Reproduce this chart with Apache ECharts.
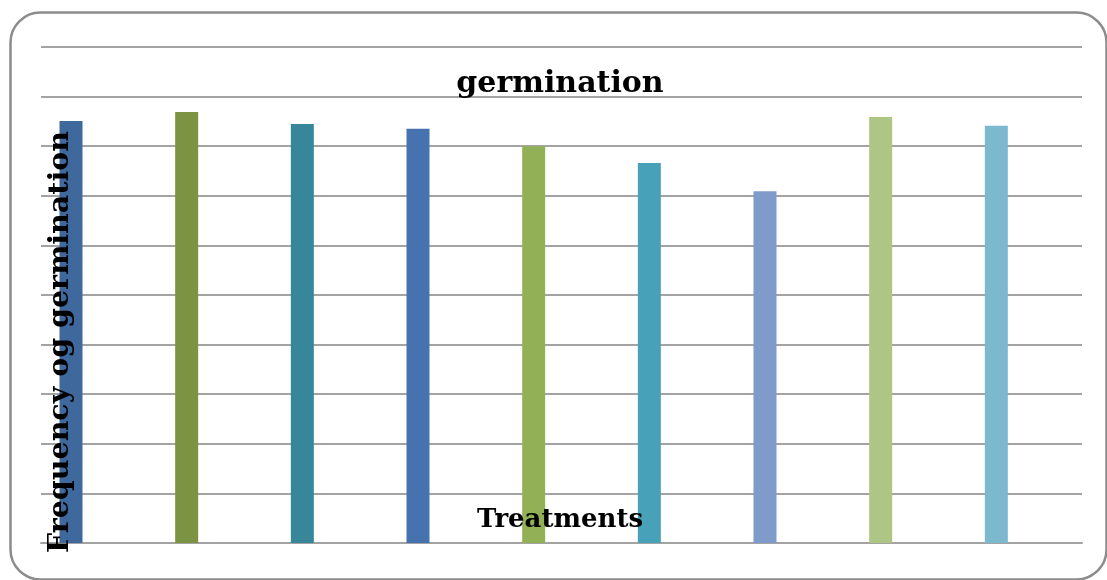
<!DOCTYPE html>
<html>
<head>
<meta charset="utf-8">
<script src="https://cdn.jsdelivr.net/npm/echarts@6/dist/echarts.min.js"></script>
<style>
html,body{margin:0;padding:0;background:#fff;}
#chart{width:1107px;height:580px;}
</style>
</head>
<body>
<div id="chart"></div>
<script>
const categories = ['T1','T2','T3','T4','T5','T6','T7','T8','T9'];
const germination = [85.1, 86.9, 84.5, 83.5, 80.0, 76.6, 70.9, 85.9, 84.1];
const barColors = ['#3f689c','#7b9343','#37869a','#4673b0','#92b157','#47a1b9','#7f9bc9','#adc686','#7cb9cf'];
const spacer = [0,0,0,0,0,0,0,0,0];

const chart = echarts.init(document.getElementById('chart'));
chart.setOption({
  animation:false,
  backgroundColor:'#ffffff',
  grid:{left:41, right:25, top:47, bottom:37},
  xAxis:{
    type:'category', data:categories,
    axisLine:{show:true, lineStyle:{color:'#a3a3a3', width:2}},
    axisTick:{show:false}, axisLabel:{show:false}
  },
  yAxis:{
    type:'value', min:0, max:100, interval:10,
    axisLine:{show:false}, axisTick:{show:false}, axisLabel:{show:false},
    splitLine:{lineStyle:{color:'#a3a3a3', width:2}}
  },
  series:[
    {type:'bar', data:germination.map((v,i)=>({value:v, itemStyle:{color:barColors[i]}})),
     barWidth:23, barGap:'142%', z:2},
    {type:'bar', data:spacer, barWidth:23, silent:true, itemStyle:{color:'rgba(0,0,0,0)'}}
  ],
  graphic:[
    {type:'rect', left:8, top:10, z:0, silent:true,
     shape:{width:1096, height:567, r:30},
     style:{fill:'none', stroke:'#8c8c8c', lineWidth:2.5}},
    {type:'text', x:560, y:84, z:100, silent:true,
     style:{text:'germination', font:'bold 30px "DejaVu Serif"', fill:'#000', align:'center', verticalAlign:'middle'}},
    {type:'text', x:560, y:520, z:100, silent:true,
     style:{text:'Treatments', font:'bold 26px "DejaVu Serif"', fill:'#000', align:'center', verticalAlign:'middle'}},
    {type:'text', x:61, y:342, rotation:Math.PI/2, z:100, silent:true,
     style:{text:'Frequency og germination', font:'bold 28.5px "DejaVu Serif"', fill:'#000', align:'center', verticalAlign:'middle'}}
  ]
});
</script>
</body>
</html>
